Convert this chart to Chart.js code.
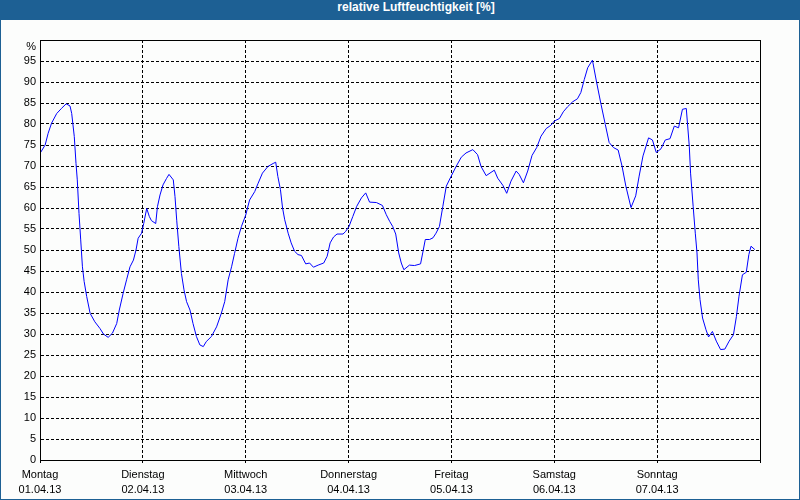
<!DOCTYPE html>
<html>
<head>
<meta charset="utf-8">
<script src="https://cdn.jsdelivr.net/npm/chart.js@4.4.0/dist/chart.umd.min.js"></script>
<style>
  body { margin: 0; background: #fff; }
  #wrap { position: relative; width: 800px; height: 500px; background: #1d6094; overflow: hidden; }
  #inner { position: absolute; left: 1px; top: 20px; width: 798px; height: 479px; background: #fcfdfc; }
  #title { position: absolute; left: 0; top: 0; width: 800px; height: 20px; box-sizing: border-box; padding-left: 32px;
           text-align: center; line-height: 20px; color: #fff; font: bold 12px "Liberation Sans", Arial, sans-serif; }
  #chart { position: absolute; left: 0; top: 0; }
</style>
</head>
<body>
<div id="wrap">
  <div id="inner"></div>
  <div id="title">relative Luftfeuchtigkeit [%]</div>
  <canvas id="chart" width="800" height="500"></canvas>
</div>
<script>
// Stunden ab Montag 00:00 und gemessene rel. Feuchte
const hours = [
  0, 1.2, 1.9, 2.7, 3.9, 5.0, 6.1, 7.0, 7.4, 8.0, 8.4, 8.7, 9.1, 9.5, 9.9, 10.3, 10.9, 11.7, 12.8, 14.0,
  14.8, 15.9, 16.9, 17.9, 18.5, 19.4, 20.2, 21.0, 21.8, 22.4, 22.9, 23.7, 24.2, 24.9, 25.5, 26.0, 27.0, 27.4, 28.0, 28.7,
  29.5, 30.1, 31.1, 31.5, 31.9, 32.4, 33.0, 33.6, 34.2, 35.0, 35.7, 36.5, 37.3, 38.1, 38.8, 40.0, 41.2, 42.3, 43.1, 43.9,
  44.7, 45.4, 46.2, 47.0, 48.0, 48.9, 50.1, 50.9, 51.9, 53.2, 54.4, 55.0, 55.5, 56.1, 56.6, 57.1, 57.9, 58.6, 59.4, 60.2,
  61.0, 62.0, 62.9, 63.8, 64.9, 66.2, 67.0, 67.7, 68.5, 69.3, 70.7, 71.3, 72.1, 73.0, 73.9, 75.0, 76.0, 76.9, 78.5, 79.9,
  80.8, 81.6, 82.3, 83.0, 83.7, 84.3, 84.9, 86.2, 87.4, 88.8, 89.3, 89.9, 90.9, 91.7, 92.4, 93.2, 94.0, 94.8, 95.9, 97.1,
  98.3, 99.4, 101.0, 102.1, 102.9, 104.1, 106.0, 106.8, 108.0, 108.9, 109.9, 111.1, 111.8, 112.8, 113.8, 114.8, 115.9, 116.9, 118.1, 119.2,
  120.0, 121.2, 122.1, 123.1, 124.3, 125.4, 126.2, 127.0, 127.8, 128.9, 129.9, 130.9, 131.9, 132.8, 133.8, 134.9, 135.8, 136.7, 137.9, 139.0,
  139.8, 140.7, 142.0, 142.9, 143.8, 144.9, 145.9, 147.0, 148.0, 149.0, 149.9, 150.8, 151.5, 151.8, 152.4, 152.9, 153.3, 153.6, 154.0, 154.6,
  155.4, 156.0, 156.9, 157.8, 158.8, 159.8, 160.8, 161.8, 162.5, 163.1, 163.9, 164.8, 165.4, 165.9, 166.8
];
const humidity = [
  73, 75, 77.8, 80.2, 82.5, 83.7, 84.8, 84.3, 82.5, 77, 70.6, 66.7, 58.7, 52.4, 46, 42.5, 38.9, 34.9, 32.9, 31.3,
  30, 29.2, 30.2, 32.5, 35.7, 39.7, 42.9, 46, 47.6, 50, 52.8, 54, 56.3, 59.9, 58, 57, 56.3, 60.3, 63.1, 65.5,
  67, 68, 66.7, 62.7, 57.1, 50.8, 44.4, 40.5, 37.7, 35.7, 32.5, 29.4, 27.4, 27, 28.2, 29.4, 31.7, 34.9, 37.7, 42.9,
  46, 49.2, 52.8, 55.6, 58.3, 61.9, 63.9, 65.9, 68.3, 69.9, 70.6, 70.9, 67.5, 64.4, 60, 57.2, 54, 51.7, 49.7, 48.9,
  48.7, 46.7, 46.9, 45.9, 46.4, 46.9, 48.5, 51.7, 53.1, 53.8, 53.8, 54.4, 55.6, 58, 60.4, 62.4, 63.6, 61.4, 61.3, 60.6,
  58.4, 56.8, 55.6, 53.8, 49.3, 46.9, 45.3, 46.4, 46.3, 46.7, 49.3, 52.5, 52.5, 52.9, 54, 55.6, 60.4, 65.2, 67.5, 69.9,
  72.1, 73.1, 73.9, 72.7, 69.9, 67.7, 69, 67.1, 65.4, 63.5, 66.4, 68.8, 68, 66, 68.8, 72.5, 74.4, 77.1, 78.9, 79.7,
  80.7, 81.3, 82.9, 84.1, 85.3, 86, 87.5, 90.6, 93.4, 95.2, 89.8, 84.7, 79.9, 75.6, 74.4, 73.8, 70, 65.2, 60.1, 62.9,
  67.6, 72.4, 76.7, 76.2, 73.2, 74.1, 76.2, 76.5, 79.5, 79.1, 83.5, 83.7, 74.7, 68.3, 60.4, 54, 49.3, 42.9, 38.2, 33.8,
  31, 29.3, 30.6, 28.3, 26.3, 26.4, 28.3, 29.8, 34.2, 39, 44.1, 44.7, 48.9, 50.9, 50.1
];
const dayNames = ['Montag', 'Dienstag', 'Mittwoch', 'Donnerstag', 'Freitag', 'Samstag', 'Sonntag'];
const dayDates = ['01.04.13', '02.04.13', '03.04.13', '04.04.13', '05.04.13', '06.04.13', '07.04.13'];

const font = { family: '"Liberation Sans", Arial, sans-serif', size: 11 };

// Rahmen um die ganze Zeichenfläche
const frameBox = {
  id: 'frameBox',
  afterDraw(chart) {
    const { ctx, chartArea: a } = chart;
    ctx.save();
    ctx.strokeStyle = '#000';
    ctx.lineWidth = 1;
    ctx.strokeRect(a.left + 0.5, a.top + 0.5, a.right - a.left, a.bottom - a.top);
    ctx.restore();
  }
};

new Chart(document.getElementById('chart'), {
  type: 'line',
  data: {
    datasets: [{
      data: hours.map((h, i) => ({ x: h, y: humidity[i] })),
      borderColor: '#0000ff',
      borderWidth: 1,
      pointRadius: 0,
      tension: 0,
      fill: false
    }]
  },
  options: {
    responsive: false,
    animation: false,
    devicePixelRatio: 1,
    layout: { padding: { left: 0, top: 40, right: 40, bottom: 0 } },
    plugins: { legend: { display: false }, tooltip: { enabled: false } },
    scales: {
      x: {
        type: 'linear',
        min: 0,
        max: 168,
        afterFit: (s) => { s.height = 40; },
        ticks: {
          stepSize: 24,
          autoSkip: false,
          maxRotation: 0,
          padding: 5,
          color: '#000',
          font: { ...font, lineHeight: 1.35 },
          callback: (v) => {
            const i = Math.round(v / 24);
            return i < 7 ? [dayNames[i], dayDates[i]] : '';
          }
        },
        grid: { color: '#000', lineWidth: 1, drawTicks: true, tickLength: 3, tickColor: '#000' },
        border: { display: true, color: '#000', width: 1, dash: [3, 2] }
      },
      y: {
        min: 0,
        max: 100,
        afterFit: (s) => { s.width = 40; },
        ticks: {
          stepSize: 5,
          autoSkip: false,
          padding: 4,
          color: '#000',
          font: font,
          // "%" sits a little below the top edge, as in the original
          callback: (v) => (v === 100 ? ['', '%'] : v)
        },
        grid: { color: '#000', lineWidth: 1, drawTicks: false },
        border: { display: true, color: '#000', width: 1, dash: [3, 2] }
      }
    }
  },
  plugins: [frameBox]
});
</script>
</body>
</html>
